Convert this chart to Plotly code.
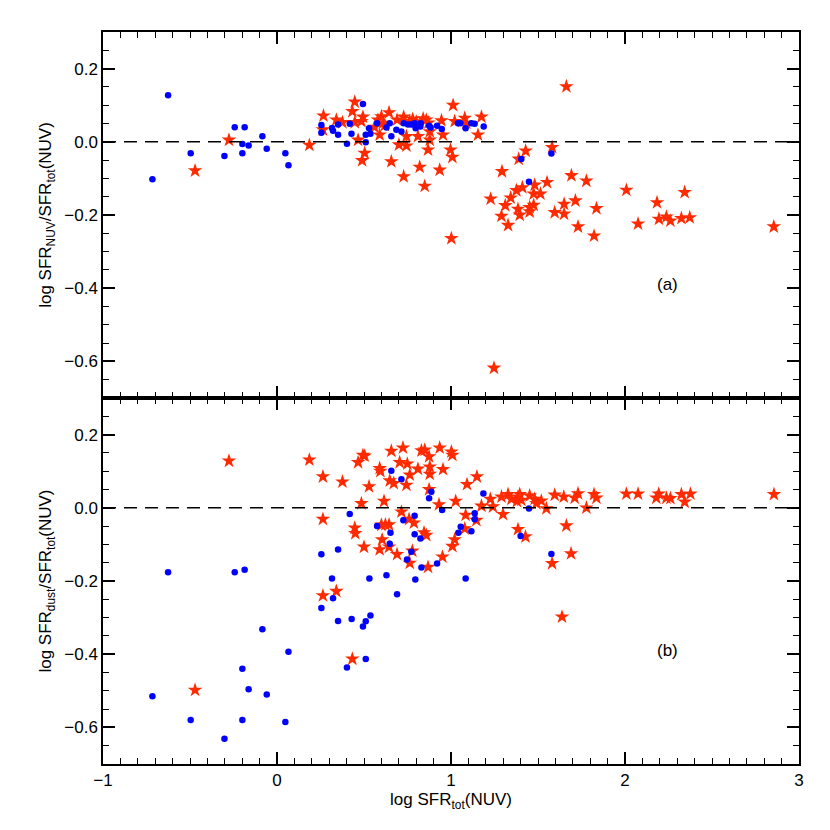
import plotly.graph_objects as go
from plotly.subplots import make_subplots

# panel (a): log SFR_NUV / SFR_tot(NUV)
top_dots_x = [-0.716, -0.626, -0.496, -0.302, -0.243, -0.199, -0.199, -0.186, -0.163, -0.084, -0.059, 0.048, 0.066,
              0.255, 0.255, 0.316, 0.322, 0.351, 0.351,
              0.402, 0.418, 0.428, 0.494, 0.510, 0.510, 0.529, 0.537, 0.575, 0.629, 0.648, 0.657, 0.686, 0.715,
              0.728, 0.753, 0.772, 0.791, 0.797, 0.824, 0.826, 0.874, 0.883, 0.920, 0.947, 1.040, 1.054, 1.084,
              1.117, 1.136, 1.188, 1.404, 1.448, 1.577]
top_dots_y = [-0.102, 0.127, -0.031, -0.039, 0.040, -0.006, -0.031, 0.040, -0.010, 0.015, -0.019, -0.031, -0.064,
              0.046, 0.025, 0.038, 0.030, 0.047, 0.019,
              -0.005, 0.049, 0.022, 0.103, 0.019, -0.001, 0.037, 0.022, 0.051, 0.039, 0.051, 0.015, 0.033, 0.028,
              0.051, 0.047, 0.047, 0.051, 0.037, 0.042, 0.051, 0.044, 0.039, 0.044, 0.035, 0.051, 0.051, 0.037,
              0.051, 0.049, 0.042, -0.047, -0.109, -0.032]

top_stars_x = [-0.471, -0.276, 0.186, 0.267, 0.264, 0.341, 0.376,
               0.447, 0.433, 0.485, 0.447, 0.494, 0.466, 0.504, 0.489, 0.590, 0.600, 0.644, 0.609, 0.657, 0.701,
               0.728, 0.744, 0.744, 0.728, 0.763, 0.810, 0.820, 0.849, 0.868, 0.878, 0.858, 0.935, 0.954, 0.945,
               1.012, 0.997, 1.008, 1.021, 1.079, 1.088, 1.155, 1.175, 1.002, 0.58, 0.62, 0.69, 0.78, 0.80, 0.84,
               0.87, 0.56, 0.878,
               1.293, 1.228, 1.429, 1.389, 1.581, 1.663, 1.376, 1.410, 1.343, 1.312, 1.290, 1.328, 1.385, 1.395,
               1.452, 1.452, 1.475, 1.481, 1.475, 1.514, 1.552, 1.596, 1.650, 1.650, 1.715, 1.692, 1.778, 1.730,
               1.836, 1.822, 2.008, 2.075, 2.184, 2.195, 2.238, 2.261, 2.324, 2.343, 2.372, 2.855, 1.247]
top_stars_y = [-0.079, 0.005, -0.009, 0.071, 0.033, 0.060, 0.053,
               0.109, 0.083, 0.056, 0.053, 0.068, 0.005, -0.031, -0.051, 0.019, 0.069, 0.080, 0.051, -0.054, -0.008,
               -0.095, -0.011, 0.015, 0.068, 0.056, 0.015, -0.069, -0.121, -0.022, 0.028, 0.060, -0.077, 0.019, 0.058,
               0.100, -0.022, -0.042, 0.056, 0.065, 0.051, 0.019, 0.068, -0.264, 0.060, 0.045, 0.060, 0.062, 0.055,
               0.063, 0.052, 0.040, 0.005,
               -0.081, -0.156, -0.025, -0.047, -0.015, 0.151, -0.133, -0.125, -0.153, -0.174, -0.203, -0.228, -0.184,
               -0.200, -0.191, -0.179, -0.173, -0.118, -0.142, -0.142, -0.111, -0.193, -0.170, -0.197, -0.161, -0.092,
               -0.107, -0.232, -0.182, -0.257, -0.132, -0.224, -0.166, -0.211, -0.205, -0.216, -0.209, -0.138, -0.207,
               -0.232, -0.618]

# panel (b): log SFR_dust / SFR_tot(NUV)
bot_dots_x = [-0.716, -0.626, -0.496, -0.302, -0.243, -0.199, -0.199, -0.186, -0.163, -0.084, -0.059, 0.048, 0.066,
              0.255, 0.255, 0.316, 0.322, 0.351, 0.351,
              0.402, 0.418, 0.429, 0.494, 0.510, 0.510, 0.531, 0.537, 0.575, 0.629, 0.648, 0.652, 0.657, 0.690,
              0.715, 0.726, 0.747, 0.772, 0.791, 0.791, 0.795, 0.824, 0.830, 0.874, 0.887, 0.920, 0.949, 1.042,
              1.056, 1.084, 1.117, 1.136, 1.136, 1.186, 1.400, 1.448, 1.577]
bot_dots_y = [-0.515, -0.176, -0.580, -0.631, -0.176, -0.440, -0.580, -0.169, -0.496, -0.332, -0.510, -0.585, -0.393,
              -0.127, -0.274, -0.193, -0.247, -0.114, -0.309,
              -0.436, -0.017, -0.304, -0.324, -0.310, -0.413, -0.193, -0.294, -0.050, -0.184, -0.098, -0.068, 0.101,
              -0.236, 0.078, -0.034, -0.141, -0.120, -0.022, -0.072, -0.196, -0.084, -0.163, 0.026, 0.044, -0.152,
              -0.006, -0.068, -0.052, -0.193, -0.064, -0.015, -0.031, 0.039, -0.077, -0.002, -0.126]

bot_stars_x = [-0.471, -0.276, 0.186, 0.264, 0.264, 0.264, 0.341, 0.376, 0.433, 0.447, 0.450, 0.466, 0.494, 0.504,
               0.529, 0.485, 0.500, 0.590, 0.594, 0.615, 0.600, 0.623, 0.644, 0.604, 0.590, 0.644, 0.657, 0.648,
               0.671, 0.690, 0.705, 0.715, 0.724, 0.744, 0.749, 0.759, 0.763, 0.763, 0.778, 0.787, 0.810, 0.830,
               0.849, 0.845, 0.858, 0.868, 0.874, 0.874, 0.878, 0.878, 0.931, 0.935, 0.951, 0.954, 1.002, 1.008,
               1.008, 1.021, 1.027, 1.079, 1.084, 1.092, 1.146, 1.149, 1.175, 1.226, 1.241, 1.290, 1.299, 1.328,
               1.347, 1.379, 1.385, 1.395, 1.404, 1.385, 1.428, 1.452, 1.481, 1.491, 1.519, 1.548, 1.581, 1.596,
               1.638, 1.648, 1.663, 1.690, 1.711, 1.730, 1.778, 1.822, 1.836, 2.008, 2.075, 2.180, 2.194, 2.238,
               2.261, 2.324, 2.343, 2.376, 2.856]
bot_stars_y = [-0.498, 0.128, 0.131, 0.085, -0.031, -0.240, -0.228, 0.071, -0.413, -0.055, -0.070, 0.124, 0.144, 0.142,
               0.058, 0.012, -0.107, 0.108, 0.100, 0.018, -0.047, -0.046, -0.046, -0.087, -0.114, -0.107, 0.155, 0.074,
               0.067, -0.127, 0.124, -0.011, 0.164, 0.062, 0.120, -0.031, 0.090, -0.151, -0.118, -0.041, 0.106, 0.156,
               0.158, -0.068, -0.075, -0.162, 0.140, 0.050, 0.112, 0.092, 0.009, 0.164, -0.134, 0.105, 0.153, 0.144,
               -0.105, -0.087, 0.018, -0.057, -0.020, 0.064, -0.034, 0.085, 0.005, 0.024, 0.003, 0.030, -0.018, 0.037,
               0.024, 0.018, 0.030, 0.037, 0.021, -0.059, -0.079, 0.033, 0.024, 0.012, 0.019, -0.002, -0.152, 0.035,
               -0.298, 0.030, -0.049, -0.125, 0.027, 0.039, 0.000, 0.037, 0.027, 0.038, 0.038, 0.027, 0.038, 0.027,
               0.026, 0.037, 0.016, 0.038, 0.037]

FONT = "Liberation Sans"
BLUE = "#0000ff"
RED = "#ff2a00"

fig = make_subplots(rows=2, cols=1, shared_xaxes=True, vertical_spacing=0)

for row, sx, sy, dx, dy in [(1, top_stars_x, top_stars_y, top_dots_x, top_dots_y),
                            (2, bot_stars_x, bot_stars_y, bot_dots_x, bot_dots_y)]:
    fig.add_trace(go.Scatter(x=sx, y=sy, mode="markers", showlegend=False,
                             marker=dict(symbol="star", size=11, color=RED, line=dict(width=0))),
                  row=row, col=1)
    fig.add_trace(go.Scatter(x=dx, y=dy, mode="markers", showlegend=False,
                             marker=dict(symbol="circle", size=6.5, color=BLUE, line=dict(width=0))),
                  row=row, col=1)
    # zero reference line
    fig.add_trace(go.Scatter(x=[-1, 3], y=[0, 0], mode="lines", showlegend=False, hoverinfo="skip",
                             line=dict(color="black", width=1.5, dash="13px,8px")),
                  row=row, col=1)

axis_common = dict(showline=True, linecolor="black", linewidth=1.5, mirror="allticks",
                   ticks="inside", tickcolor="black", tickwidth=1.5, showgrid=False, zeroline=False,
                   tickfont=dict(family=FONT, size=17, color="black"))

for row in (1, 2):
    fig.update_xaxes(range=[-1, 3], dtick=1, tick0=-1, ticklen=12,
                     minor=dict(dtick=0.1, ticklen=6, ticks="inside", tickcolor="black", tickwidth=1.2),
                     row=row, col=1, **axis_common)
    fig.update_yaxes(range=[-0.7, 0.3], dtick=0.2, tick0=0, ticklen=12, tickformat=".1f",
                     minor=dict(dtick=0.05, ticklen=6, ticks="inside", tickcolor="black", tickwidth=1.2),
                     row=row, col=1, **axis_common)

fig.update_xaxes(showticklabels=False, row=1, col=1)
fig.update_xaxes(title=dict(text="log SFR<sub>tot</sub>(NUV)", font=dict(family=FONT, size=17, color="black"),
                            standoff=2), row=2, col=1)
fig.update_yaxes(title=dict(text="log SFR<sub>NUV</sub>/SFR<sub>tot</sub>(NUV)",
                            font=dict(family=FONT, size=17, color="black"), standoff=8), row=1, col=1)
fig.update_yaxes(title=dict(text="log SFR<sub>dust</sub>/SFR<sub>tot</sub>(NUV)",
                            font=dict(family=FONT, size=17, color="black"), standoff=8), row=2, col=1)

fig.add_annotation(x=2.245, y=-0.39, text="(a)", showarrow=False, xref="x", yref="y",
                   font=dict(family=FONT, size=17, color="black"))
fig.add_annotation(x=2.245, y=-0.39, text="(b)", showarrow=False, xref="x2", yref="y2",
                   font=dict(family=FONT, size=17, color="black"))

# page body adds an 8px offset, so the figure is slightly smaller than the window
fig.update_layout(width=822, height=822, plot_bgcolor="white", paper_bgcolor="white",
                  margin=dict(l=95, r=31, t=24, b=66),
                  font=dict(family=FONT, size=17, color="black"))

fig.write_html("out.html")
